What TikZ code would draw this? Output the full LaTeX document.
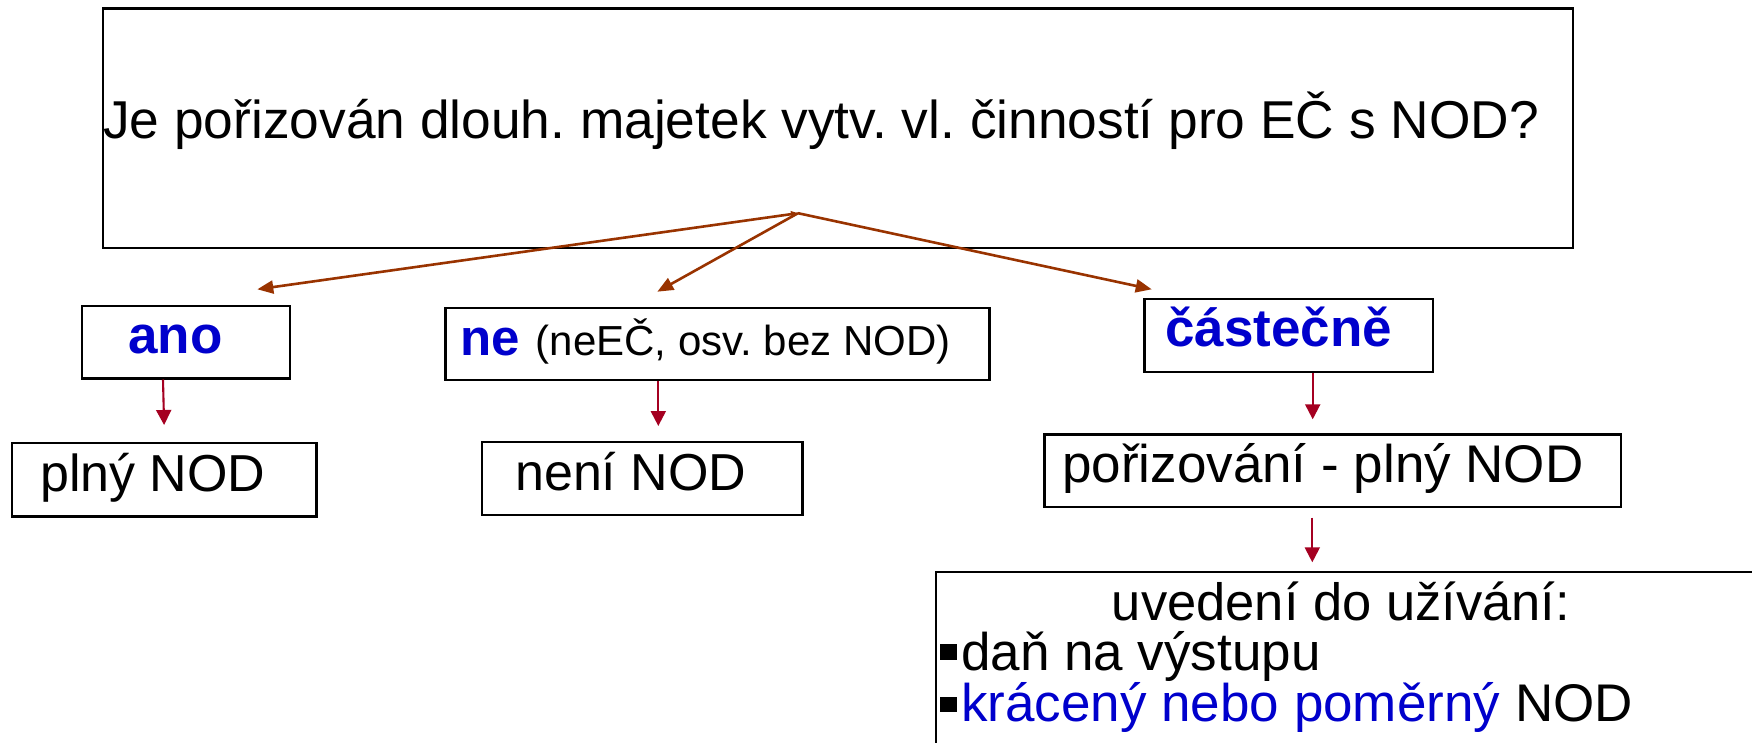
\documentclass[tikz,border=0pt]{standalone}
\usepackage{fontspec}
\setmainfont{Liberation Sans}
\usetikzlibrary{arrows.meta,calc}
\definecolor{qblue}{RGB}{0,0,204}
\definecolor{forkbrown}{RGB}{153,51,0}
\definecolor{stepred}{RGB}{165,0,33}
\newcommand\fs[1]{\fontsize{#1}{#1}\selectfont}
\frenchspacing

\begin{document}
\begin{tikzpicture}[x=1pt,y=-1pt,
  box/.style={draw=black, line width=2.2pt, rectangle, inner sep=0pt, anchor=north west, fill=white},
  txt/.style={inner sep=0pt, anchor=base west},
  forkarrow/.style={draw=forkbrown, line width=2.6pt, -{Triangle[length=16pt,width=13pt]}},
  vdown/.style={draw=stepred, line width=2.1pt, -{Triangle[length=15pt,width=15pt]}}]

\fill[white] (0,0) rectangle (1752,743);
\useasboundingbox (0,0) rectangle (1752,743);
\clip (0,0) rectangle (1752,743);

% boxes
\node[box, minimum width=1470.3pt, minimum height=239.2pt] (q)    at (101.7,7.5)   {};
\node[box, minimum width=208.3pt,  minimum height=72.3pt]  (ano)  at (80.7,305)    {};
\node[box, minimum width=544pt,    minimum height=72.3pt]  (ne)   at (444.3,306.7) {};
\node[box, minimum width=288.7pt,  minimum height=73.3pt]  (cast) at (1143.3,297.7){};
\node[box, minimum width=304.6pt,  minimum height=73.3pt]  (plny) at (10.7,442)    {};
\node[box, minimum width=320.6pt,  minimum height=73pt]    (neni) at (480.7,440.7) {};
\node[box, minimum width=576.7pt,  minimum height=72.7pt]  (pori) at (1043.3,433.3){};
\node[box, minimum width=900pt,    minimum height=300pt]   (uved) at (934.7,571)   {};

% texts
\node[txt] (qtext) at (103,139) {\fs{53.3}Je pořizován dlouh. majetek vytv. vl. činností pro EČ s NOD?};
\node[txt, text=qblue, font=\bfseries] (anotext) at (128,353) {\fs{53}ano};
\node[txt] (netext) at (460,355) {{\bfseries\color{qblue}\fs{51}ne}\hspace{16pt}{\fs{42}(neEČ, osv. bez NOD)}};
\node[txt, text=qblue, font=\bfseries] (casttext) at (1165,346.7) {\fs{53}částečně};
\node[txt] (plnytext) at (40,491.7) {\fs{52}plný NOD};
\node[txt] (nenitext) at (515,490) {\fs{52}není NOD};
\node[txt] (poritext) at (1062,482.7) {\fs{53}pořizování - plný NOD};
\node[inner sep=0pt, anchor=base] (uvedhead) at (1341,620) {\fs{52.5}uvedení do užívání:};
\node[txt] (item1) at (940,670) {\rule[10pt]{16.5pt}{16pt}\hspace{4.5pt}\fs{53}daň na výstupu};
\node[txt] (item2) at (940,721.7) {\rule[10pt]{16.5pt}{15pt}\hspace{4.5pt}\fs{53}\textcolor{qblue}{krácený nebo poměrný} NOD};

% branching from the question
\coordinate (fork) at ($(q.south west)+(696.3,-35.7)$);
\draw[forkarrow, {Triangle[length=7pt,width=6pt]}-{Triangle[length=16pt,width=13pt]}]
  (fork) -- ($(ano.north west)+(176.6,-15.7)$);
\draw[forkarrow] (fork) -- ($(ne.north west)+(213,-15)$);
\draw[forkarrow] (fork) -- ($(cast.north west)+(8.4,-8.4)$);

% consequences
\draw[vdown] ($(ano.south west)+(82.3,0)$) -- ($(plny.north)+(0,-17)$);
\draw[vdown] ($(ne.south west)+(214,0)$) -- ($(neni.north west)+(177.6,-14.7)$);
\draw[vdown] ($(cast.south west)+(169.4,0)$) -- ($(pori.north west)+(269.4,-14)$);
\draw[vdown] ($(pori.south west)+(269,9.3)$) -- ($(uved.north west)+(377.6,-8.7)$);

\end{tikzpicture}
\end{document}
